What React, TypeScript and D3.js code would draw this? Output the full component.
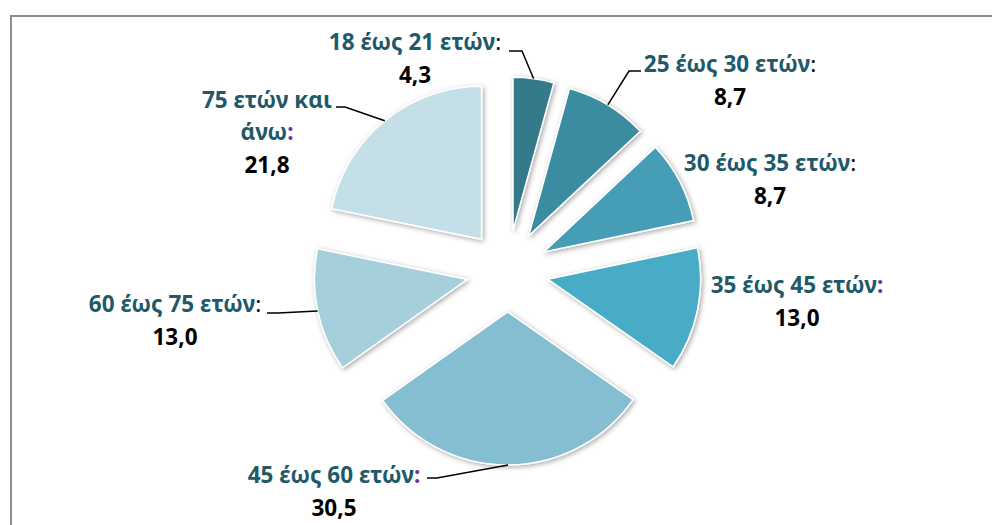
import React from "react";
import * as d3 from "d3";

// age groups, share of respondents (%)
const categories = [
  "18 έως 21 ετών",
  "25 έως 30 ετών",
  "30 έως 35 ετών",
  "35 έως 45 ετών",
  "45 έως 60 ετών",
  "60 έως 75 ετών",
  "75 ετών και άνω",
];
const values = [4.3, 8.7, 8.7, 13.0, 30.5, 13.0, 21.8];
const valueLabels = ["4,3", "8,7", "8,7", "13,0", "30,5", "13,0", "21,8"];
// colour of the ":" after each label
const colonPurple = [false, false, false, true, true, false, true];

const colors = ["#347a8b", "#3b8ba1", "#459db6", "#4aacc6", "#84bed0", "#a6cfdc", "#c4dfe7"];

// label layout: text lines, centre x, first baseline, leader polyline (label side)
const labelLayout = [
  { lines: ["18 έως 21 ετών"], x: 415, y: 50, leader: [[509, 51], [522, 51]] },
  { lines: ["25 έως 30 ετών"], x: 730, y: 72, leader: [[641, 71], [629, 71]] },
  { lines: ["30 έως 35 ετών"], x: 770, y: 171, leader: null },
  { lines: ["35 έως 45 ετών"], x: 797, y: 293, leader: null },
  { lines: ["45 έως 60 ετών"], x: 334, y: 483, leader: [[427, 478], [437, 478]] },
  { lines: ["60 έως 75 ετών"], x: 175, y: 312, leader: [[267, 313], [278, 313]] },
  { lines: ["75 ετών και", "άνω"], x: 267, y: 108, leader: [[336, 107], [345, 107]] },
];

const W = 992;
const H = 525;
const cx = 507.5;
const cy = 271;
const radius = 153;
const explode = 41;
const lineGap = 32;

const FONT = "'Noto Sans', sans-serif";

export default function App() {
  const pie = d3
    .pie<number>()
    .sort(null)
    .value((d) => d);
  const arcs = pie(values);
  const arcGen = d3.arc<d3.PieArcDatum<number>>().innerRadius(0).outerRadius(radius);

  return (
    <svg
      width={W}
      height={H}
      style={{ position: "absolute", left: 0, top: 0, background: "#fff" }}
    >
      <defs>
        <filter id="shadow" x="-20%" y="-20%" width="140%" height="140%">
          <feDropShadow dx="1.5" dy="1.5" stdDeviation="2.5" floodColor="#000" floodOpacity="0.35" />
        </filter>
      </defs>

      {/* chart frame */}
      <rect x={11} y={16} width={W} height={H} fill="none" stroke="#8e8e8e" strokeWidth={2} />

      {arcs.map((a, i) => {
        const mid = (a.startAngle + a.endAngle) / 2;
        const ox = Math.sin(mid) * explode;
        const oy = -Math.cos(mid) * explode;
        return (
          <path
            key={"s" + i}
            d={arcGen(a) || ""}
            transform={`translate(${cx + ox},${cy + oy})`}
            fill={colors[i]}
            stroke="#fff"
            strokeWidth={1.5}
            filter="url(#shadow)"
          />
        );
      })}

      {arcs.map((a, i) => {
        const lay = labelLayout[i];
        if (!lay.leader) return null;
        const mid = (a.startAngle + a.endAngle) / 2;
        const px = cx + Math.sin(mid) * (explode + radius);
        const py = cy - Math.cos(mid) * (explode + radius);
        const pts = [...lay.leader, [px, py]];
        return (
          <polyline
            key={"l" + i}
            points={pts.map((p) => p.join(",")).join(" ")}
            fill="none"
            stroke="#000"
            strokeWidth={1.5}
          />
        );
      })}

      {labelLayout.map((lay, i) => {
        const last = lay.lines.length - 1;
        return (
          <g key={"t" + i} fontFamily={FONT} fontSize={22.5} fontWeight="bold" textAnchor="middle">
            {lay.lines.map((ln, j) => (
              <text key={j} x={lay.x} y={lay.y + j * lineGap} fill="#215968">
                {ln}
                {j === last && (
                  <tspan
                    fill={colonPurple[i] ? "#7030a0" : "#000"}
                    fontWeight={colonPurple[i] ? "bold" : "normal"}
                  >
                    :
                  </tspan>
                )}
              </text>
            ))}
            <text x={lay.x} y={lay.y + lay.lines.length * lineGap + 1} fill="#000">
              {valueLabels[i]}
            </text>
          </g>
        );
      })}
    </svg>
  );
}
